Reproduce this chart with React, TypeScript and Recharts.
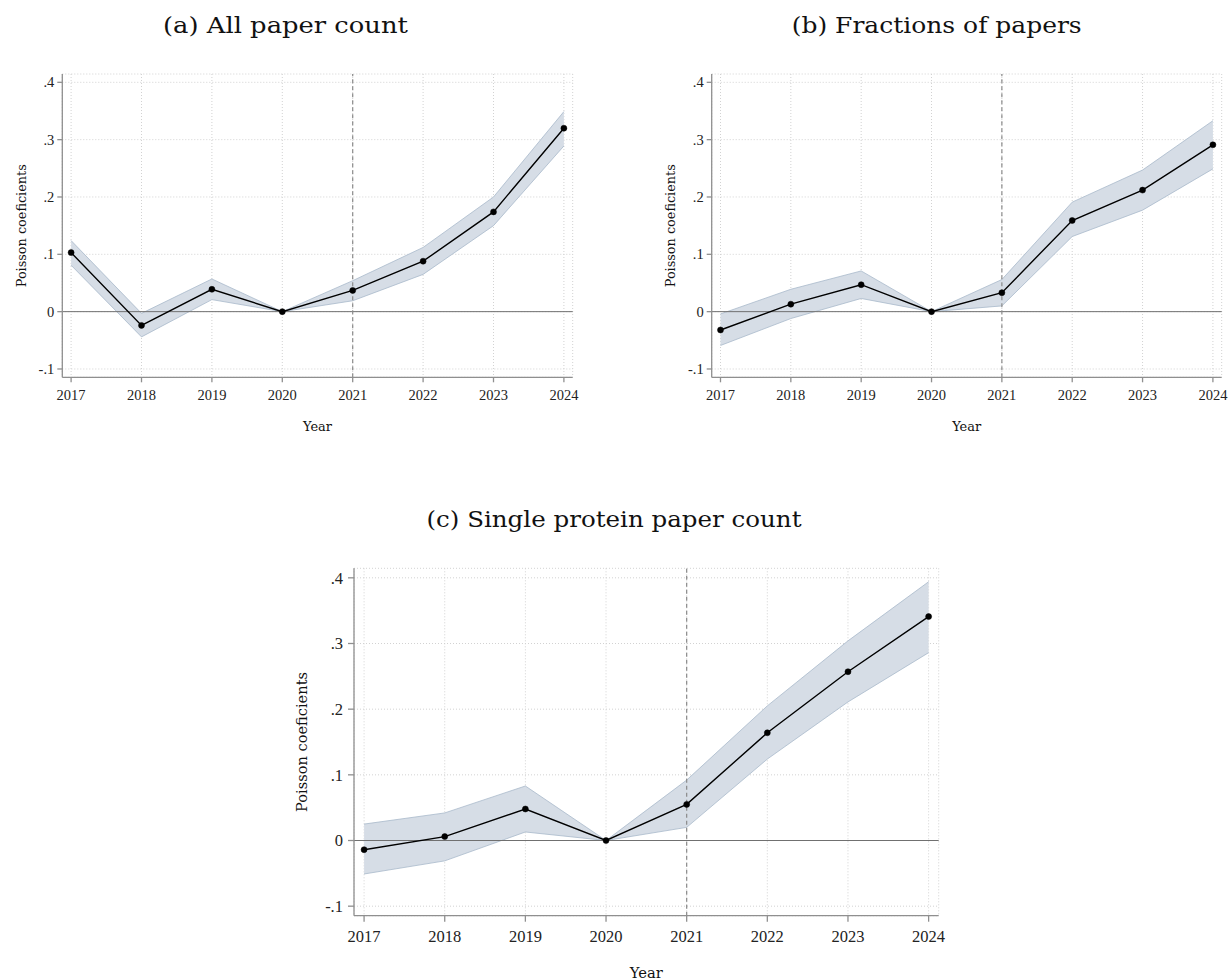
import { ComposedChart, Area, Line, XAxis, YAxis, CartesianGrid, ReferenceLine } from 'recharts';

const years = [2017, 2018, 2019, 2020, 2021, 2022, 2023, 2024];
const yTicks = [-0.1, 0, 0.1, 0.2, 0.3, 0.4];

// (a) All paper count
const allCoef = [0.103, -0.024, 0.039, 0, 0.037, 0.088, 0.174, 0.32];
const allLow = [0.081, -0.044, 0.021, 0, 0.019, 0.065, 0.15, 0.289];
const allHigh = [0.124, -0.003, 0.057, 0, 0.054, 0.112, 0.2, 0.349];

// (b) Fractions of papers
const fracCoef = [-0.032, 0.013, 0.047, 0, 0.033, 0.159, 0.212, 0.291];
const fracLow = [-0.059, -0.012, 0.023, 0, 0.01, 0.131, 0.177, 0.249];
const fracHigh = [-0.004, 0.039, 0.071, 0, 0.056, 0.191, 0.247, 0.333];

// (c) Single protein paper count
const protCoef = [-0.014, 0.006, 0.048, 0, 0.055, 0.164, 0.257, 0.341];
const protLow = [-0.051, -0.031, 0.013, 0, 0.02, 0.124, 0.211, 0.286];
const protHigh = [0.025, 0.042, 0.083, 0, 0.092, 0.205, 0.304, 0.394];

const rows = (coef: number[], low: number[], high: number[]) =>
    years.map((year, i) => ({ year, coef: coef[i], band: [low[i], high[i]] }));

const fmt = (v: number) => (v === 0 ? '0' : v.toFixed(1).replace('0.', '.'));

const AXIS = '#8f8f8f';
const TICK_FONT = '"Liberation Serif", serif';
const WORD_FONT = '"DejaVu Serif", serif';

interface PanelProps {
    data: any[];
    left: number;
    top: number;
    width: number;
    height: number;
    margin: { top: number; right: number; bottom: number; left: number };
    fontSize: number;
    tickSize: number;
    yTickMargin: number;
    xTickMargin: number;
}

function Panel({ data, left, top, width, height, margin, fontSize, tickSize, yTickMargin, xTickMargin }: PanelProps) {
    const tickStyle = { fontFamily: TICK_FONT, fontSize, fill: '#222' };
    return (
        <div style={{ position: 'absolute', left, top }}>
            <ComposedChart width={width} height={height} data={data} margin={margin}>
                <CartesianGrid stroke="#d2d2d2" strokeDasharray="1 2" strokeWidth={1} />
                <XAxis
                    dataKey="year"
                    type="number"
                    domain={[2016.875, 2024.125]}
                    ticks={years}
                    allowDataOverflow
                    height={30}
                    stroke={AXIS}
                    strokeWidth={1.3}
                    tickSize={tickSize}
                    tickMargin={xTickMargin}
                    tick={tickStyle}
                    interval={0}
                />
                <YAxis
                    type="number"
                    domain={[-0.1145, 0.4145]}
                    ticks={yTicks}
                    allowDataOverflow
                    width={50}
                    stroke={AXIS}
                    strokeWidth={1.3}
                    tickSize={tickSize}
                    tickMargin={yTickMargin}
                    tick={tickStyle}
                    tickFormatter={fmt}
                    interval={0}
                />
                <Area
                    dataKey="band"
                    type="linear"
                    fill="#d6dde6"
                    fillOpacity={1}
                    stroke="#a8b9ca"
                    strokeWidth={0.8}
                    isAnimationActive={false}
                    activeDot={false}
                />
                <ReferenceLine y={0} stroke="#707070" strokeWidth={1} />
                <ReferenceLine x={2021} stroke="#8a8a8a" strokeWidth={1.2} strokeDasharray="4 3" />
                <Line
                    dataKey="coef"
                    type="linear"
                    stroke="#000"
                    strokeWidth={1.4}
                    dot={{ r: 3, fill: '#000', stroke: '#000', strokeWidth: 0.5 }}
                    activeDot={false}
                    isAnimationActive={false}
                />
            </ComposedChart>
        </div>
    );
}

export default function App() {
    return (
        <div style={{ position: 'absolute', left: 0, top: 0, width: 1231, height: 980, background: '#fff' }}>
            <Panel
                data={rows(allCoef, allLow, allHigh)}
                left={0}
                top={0}
                width={600}
                height={430}
                margin={{ top: 74, right: 27.3, bottom: 22.7, left: 12.3 }}
                fontSize={14.5}
                tickSize={5}
                yTickMargin={3}
                xTickMargin={7}
            />
            <Panel
                data={rows(fracCoef, fracLow, fracHigh)}
                left={650}
                top={0}
                width={581}
                height={430}
                margin={{ top: 74, right: 9.3, bottom: 22.7, left: 11.7 }}
                fontSize={14.5}
                tickSize={5}
                yTickMargin={3}
                xTickMargin={7}
            />
            <Panel
                data={rows(protCoef, protLow, protHigh)}
                left={280}
                top={540}
                width={700}
                height={410}
                margin={{ top: 28.3, right: 41.3, bottom: 4.3, left: 24 }}
                fontSize={16.5}
                tickSize={6}
                yTickMargin={5}
                xTickMargin={8.5}
            />
            <svg
                width={1231}
                height={980}
                style={{ position: 'absolute', left: 0, top: 0, pointerEvents: 'none' }}
                fontFamily={WORD_FONT}
                fill="#111"
            >
                <text x={285.5} y={33} fontSize={23} textAnchor="middle" textLength={245} lengthAdjust="spacingAndGlyphs">
                    (a) All paper count
                </text>
                <text x={936.7} y={33} fontSize={23} textAnchor="middle" textLength={290} lengthAdjust="spacingAndGlyphs">
                    (b) Fractions of papers
                </text>
                <text x={614} y={527} fontSize={23} textAnchor="middle" textLength={375} lengthAdjust="spacingAndGlyphs">
                    (c) Single protein paper count
                </text>
                <text x={317.5} y={431} fontSize={12.5} textAnchor="middle" textLength={29} lengthAdjust="spacingAndGlyphs">
                    Year
                </text>
                <text x={966.7} y={431} fontSize={12.5} textAnchor="middle" textLength={29} lengthAdjust="spacingAndGlyphs">
                    Year
                </text>
                <text x={646.3} y={978} fontSize={14.5} textAnchor="middle" textLength={33} lengthAdjust="spacingAndGlyphs">
                    Year
                </text>
                <text
                    x={0}
                    y={0}
                    fontSize={13}
                    textAnchor="middle"
                    textLength={123}
                    lengthAdjust="spacingAndGlyphs"
                    transform="translate(26 225.7) rotate(-90)"
                >
                    Poisson coeficients
                </text>
                <text
                    x={0}
                    y={0}
                    fontSize={13}
                    textAnchor="middle"
                    textLength={123}
                    lengthAdjust="spacingAndGlyphs"
                    transform="translate(675.4 225.7) rotate(-90)"
                >
                    Poisson coeficients
                </text>
                <text
                    x={0}
                    y={0}
                    fontSize={14.5}
                    textAnchor="middle"
                    textLength={140}
                    lengthAdjust="spacingAndGlyphs"
                    transform="translate(306.5 742) rotate(-90)"
                >
                    Poisson coeficients
                </text>
            </svg>
        </div>
    );
}
